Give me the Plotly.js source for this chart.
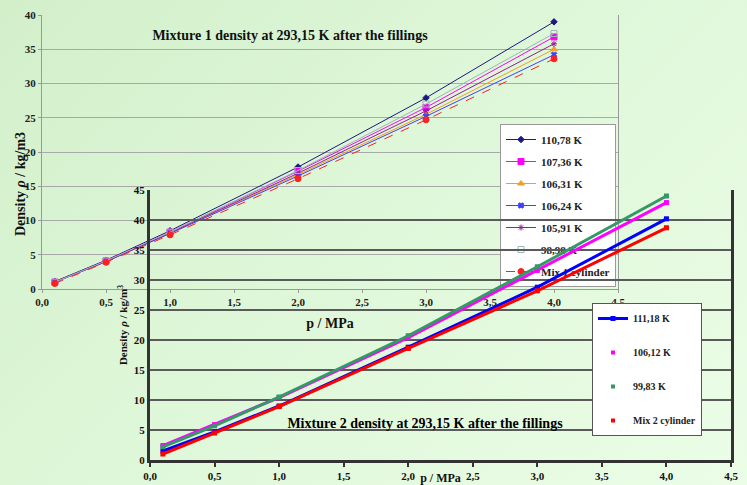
<!DOCTYPE html>
<html>
<head>
<meta charset="utf-8">
<script src="https://cdn.plot.ly/plotly-3.0.1.min.js"></script>
<style>
html,body{margin:0;padding:0;}
body{width:747px;height:485px;overflow:hidden;position:relative;
background:linear-gradient(135deg,#d2efca 0%,#def7d8 45%,#ebfde7 100%);}
#c1,#c2{position:absolute;left:0;top:0;width:747px;height:485px;}
#c2{pointer-events:none;}
</style>
</head>
<body>
<div id="c1"></div>
<div id="c2"></div>
<script>
// ---------- data ----------
const pressure = [0.1, 0.5, 1.0, 2.0, 3.0, 4.0];

// Mixture 1
const m1Names = ['110,78 K','107,36 K','106,31 K','106,24 K','105,91 K','98,98 K','Mix 1 cylinder'];
const m1_11078 = [1.1, 4.2, 8.5, 17.8, 27.9, 39.0];
const m1_10736 = [1.0, 4.1, 8.3, 17.2, 26.5, 36.8];
const m1_10631 = [1.0, 4.0, 8.2, 16.7, 25.5, 35.0];
const m1_10624 = [1.0, 4.0, 8.1, 16.5, 25.2, 34.2];
const m1_10591 = [1.0, 4.0, 8.2, 16.9, 26.0, 35.8];
const m1_9898  = [1.0, 4.1, 8.3, 17.3, 27.0, 37.3];
const m1_mix   = [0.8, 3.9, 7.9, 16.1, 24.7, 33.6];

// Mixture 2
const m2Names = ['111,18 K','106,12 K','99,83 K','Mix 2 cylinder'];
const m2_11118 = [1.5, 4.7, 9.0, 18.8, 28.8, 40.2];
const m2_10612 = [2.4, 5.9, 10.4, 20.4, 31.6, 42.9];
const m2_9983  = [2.2, 5.7, 10.5, 20.7, 32.2, 44.0];
const m2_mix   = [1.0, 4.5, 8.9, 18.6, 28.2, 38.7];

const xTickVals = [0,0.5,1,1.5,2,2.5,3,3.5,4,4.5];
const xTickText = ['0,0','0,5','1,0','1,5','2,0','2,5','3,0','3,5','4,0','4,5'];
const y1TickVals = [0,5,10,15,20,25,30,35,40];
const y2TickVals = [0,5,10,15,20,25,30,35,40,45];

const title1 = 'Mixture 1 density at 293,15 K after the fillings';
const title2 = 'Mixture 2 density at 293,15 K after the fillings';
const yTitle1 = 'Density <i>ρ</i> / kg/m3';
const yTitle2 = 'Density <i>ρ</i> / kg/m<sup>3</sup>';
const xTitle = 'p / MPa';

// ---------- chart 1 ----------
const serif = "'Liberation Serif','Times New Roman',serif";
const m1Series = [m1_11078, m1_10736, m1_10631, m1_10624, m1_10591, m1_9898, m1_mix];
const m1Styles = [
  {color:'#1a1a80', symbol:'diamond', size:5, dash:'solid'},
  {color:'#ff00ff', symbol:'square', size:6, dash:'solid'},
  {color:'#f0a020', symbol:'triangle-up', size:6, dash:'solid'},
  {color:'#4040ff', symbol:'x', size:5, dash:'solid'},
  {color:'#902090', symbol:'asterisk-open', size:5, dash:'solid'},
  {color:'#99b8b8', symbol:'square-open', size:6, dash:'solid'},
  {color:'#ff2020', symbol:'circle', size:6, dash:'dash'}
];
const traces1 = m1Series.map((ys,i)=>({
  x: pressure, y: ys, name: m1Names[i], type:'scatter', mode:'lines+markers',
  legendgroup:'g'+i,
  line:{color:m1Styles[i].color, width:1, dash:m1Styles[i].dash},
  marker:{color:m1Styles[i].color, symbol:m1Styles[i].symbol, size:m1Styles[i].size,
          line:{color:m1Styles[i].color, width:1}}
}));

const layout1 = {
  width:747, height:485,
  margin:{l:42, r:129, t:15, b:196},
  paper_bgcolor:'rgba(0,0,0,0)', plot_bgcolor:'rgba(0,0,0,0)',
  font:{family:serif, color:'#222', size:11},
  title:{text:'<b>'+title1+'</b>', x:290/747, xanchor:'center', y:1-35/485, yanchor:'middle',
         font:{family:serif, size:14, color:'#111'}},
  showlegend:true,
  legend:{x:(500-42)/576, xanchor:'left', y:(289-124)/274, yanchor:'top',
          bgcolor:'#ffffff', bordercolor:'#999', borderwidth:1,
          font:{family:serif, size:11, color:'#222', weight:'bold'},
          traceorder:'grouped', tracegroupgap:3},
  annotations:[{text:'<b>'+yTitle1+'</b>', textangle:-90, xref:'paper', yref:'paper',
                x:(20-42)/576, y:(289-184)/274, xanchor:'center', yanchor:'middle', showarrow:false,
                font:{family:serif, size:14, color:'#111'}}],
  xaxis:{range:[0,4.5], tickvals:xTickVals, ticktext:xTickText,
         showgrid:false, zeroline:false, showline:true, linecolor:'#999', linewidth:1,
         ticks:'outside', ticklen:3, tickcolor:'#999',
         tickfont:{family:serif, size:11, color:'#222', weight:'bold'},
         title:{text:'<b>'+xTitle+'</b>', font:{family:serif, size:14, color:'#111'}, standoff:10}},
  yaxis:{range:[0,40], tickvals:y1TickVals,
         showgrid:true, gridcolor:'#a9a9a9', gridwidth:1, zeroline:false,
         showline:true, linecolor:'#999', linewidth:1, mirror:true,
         ticks:'outside', ticklen:3, tickcolor:'#999',
         tickfont:{family:serif, size:11, color:'#222', weight:'bold'}}
};
Plotly.newPlot('c1', traces1, layout1, {displayModeBar:false, staticPlot:true});

// ---------- chart 2 ----------
const m2Series = [m2_11118, m2_10612, m2_9983, m2_mix];
const m2Colors = ['#0000ff','#ff00ff','#339966','#ff0000'];
const traces2 = [];
m2Series.forEach((ys,i)=>{
  traces2.push({
    x: pressure, y: ys, name: m2Names[i], type:'scatter', mode:'lines+markers',
    legendgroup:'h'+i, showlegend: i===0, legend:'legend2',
    line:{color:m2Colors[i], width:3},
    marker:{color:m2Colors[i], symbol:'square', size:5}
  });
});
m2Series.forEach((ys,i)=>{
  if(i===0) return;
  traces2.push({
    x: pressure, y: ys, name: m2Names[i], type:'scatter', mode:'markers',
    legendgroup:'h'+i, showlegend:true, legend:'legend2',
    marker:{color:m2Colors[i], symbol:'square', size:4}
  });
});

const layout2 = {
  width:747, height:485,
  margin:{l:150, r:16, t:190, b:25},
  paper_bgcolor:'rgba(0,0,0,0)', plot_bgcolor:'rgba(0,0,0,0)',
  font:{family:serif, color:'#111', size:11},
  title:{text:'<b>'+title2+'</b>', x:425/747, xanchor:'center', y:1-423/485, yanchor:'middle',
         font:{family:serif, size:14, color:'#000'}},
  showlegend:true,
  legend2:{x:(592-150)/581, xanchor:'left', y:(460-303)/270, yanchor:'top',
          bgcolor:'#ffffff', bordercolor:'#555', borderwidth:1,
          font:{family:serif, size:10, color:'#222', weight:'bold'},
          traceorder:'grouped', tracegroupgap:15},
  xaxis:{range:[0,4.5], tickvals:xTickVals, ticktext:xTickText,
         showgrid:false, zeroline:false, showline:true, linecolor:'#333', linewidth:3,
         ticks:'outside', ticklen:4, tickcolor:'#333', tickwidth:2,
         tickfont:{family:serif, size:11, color:'#111', weight:'bold'},
         title:{text:'<b>'+xTitle+'</b>', font:{family:serif, size:12, color:'#111'}, standoff:2}},
  yaxis:{range:[0,45], tickvals:y2TickVals,
         showgrid:true, gridcolor:'#5a5a5a', gridwidth:2, zeroline:false,
         showline:true, linecolor:'#333', linewidth:3, mirror:true,
         ticks:'',
         tickfont:{family:serif, size:11, color:'#111', weight:'bold'},
         title:{text:'<b>'+yTitle2+'</b>', font:{family:serif, size:11, color:'#111'}, standoff:4}}
};
Plotly.newPlot('c2', traces2, layout2, {displayModeBar:false, staticPlot:true});
</script>
</body>
</html>
